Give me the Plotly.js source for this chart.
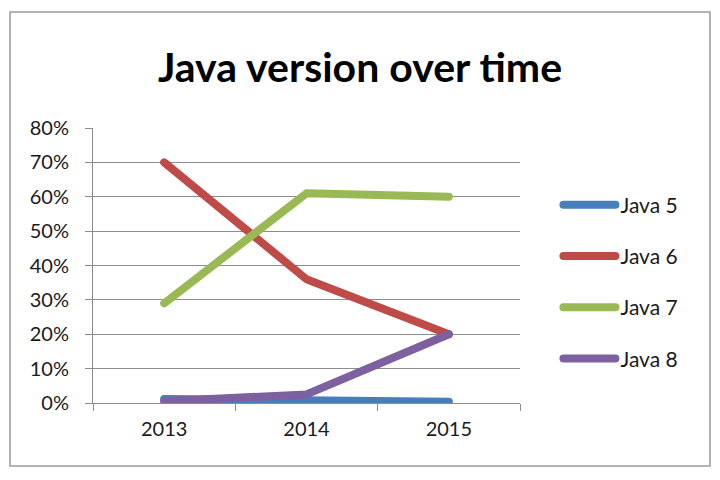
<!DOCTYPE html>
<html>
<head>
<meta charset="utf-8">
<script src="https://cdn.plot.ly/plotly-3.0.1.min.js"></script>
<style>
  html, body { margin: 0; padding: 0; background: #fff; }
  #chart { width: 720px; height: 480px; }
  .scatterlayer path.js-line, .legend path.js-line { stroke-linecap: round; stroke-linejoin: round; }
</style>
</head>
<body>
<div id="chart"></div>
<script>
const years = ['2013', '2014', '2015'];
const seriesNames = ['Java 5', 'Java 6', 'Java 7', 'Java 8'];
const java5 = [0.012, 0.008, 0.004];
const java6 = [0.70, 0.36, 0.20];
const java7 = [0.29, 0.61, 0.60];
const java8 = [0.005, 0.025, 0.20];
const yTickVals = [0, 0.1, 0.2, 0.3, 0.4, 0.5, 0.6, 0.7, 0.8];
const colors = ['#4A7EBB', '#BE4B48', '#98B954', '#7D60A0'];

const values = [java5, java6, java7, java8];
const traces = values.map((v, i) => ({
  x: years,
  y: v,
  name: seriesNames[i],
  legendgroup: 'g' + i,
  type: 'scatter',
  mode: 'lines',
  line: { color: colors[i], width: 8 },
  hoverinfo: 'skip'
}));

const fontFamily = 'Lato, "Open Sans", sans-serif';

const layout = {
  width: 720,
  height: 480,
  paper_bgcolor: '#ffffff',
  plot_bgcolor: '#ffffff',
  margin: { l: 93, r: 200, t: 128, b: 77 },
  showlegend: true,
  font: { family: fontFamily, color: '#1a1a1a', size: 20 },
  title: {
    text: '<b>Java version over time</b>',
    font: { family: fontFamily, size: 41, color: '#000' },
    x: 0.5, xref: 'container', xanchor: 'center',
    y: 0.86, yref: 'container', yanchor: 'middle'
  },
  xaxis: {
    type: 'category',
    range: [-0.5, 2.5],
    tickson: 'boundaries',
    ticks: 'outside',
    ticklen: 7,
    tickcolor: '#8c8c8c',
    showline: true,
    linecolor: '#8c8c8c',
    linewidth: 1,
    showgrid: false,
    zeroline: false,
    tickfont: { family: fontFamily, size: 20, color: '#1a1a1a' },
    ticklabelstandoff: 8,
    fixedrange: true
  },
  yaxis: {
    range: [0, 0.8],
    tickmode: 'array',
    tickvals: yTickVals,
    tickformat: '.0%',
    ticks: 'outside',
    ticklen: 7,
    tickcolor: '#8c8c8c',
    showline: true,
    linecolor: '#8c8c8c',
    linewidth: 1,
    showgrid: true,
    gridcolor: '#8c8c8c',
    gridwidth: 1,
    zeroline: false,
    tickfont: { family: fontFamily, size: 20, color: '#1a1a1a' },
    ticklabelstandoff: 12,
    fixedrange: true
  },
  legend: {
    x: 1.09, xanchor: 'left',
    y: 0.44, yanchor: 'middle',
    font: { family: fontFamily, size: 21, color: '#1a1a1a' },
    traceorder: 'grouped',
    tracegroupgap: 21,
    itemwidth: 52,
    bgcolor: 'rgba(0,0,0,0)'
  },
  shapes: [{
    type: 'rect', xref: 'paper', yref: 'paper',
    x0: (10 - 93) / 427, x1: (710 - 93) / 427,
    y0: (403 - 466) / 275, y1: (403 - 12) / 275,
    line: { color: '#9a9a9a', width: 1.5 },
    fillcolor: 'rgba(0,0,0,0)', layer: 'below'
  }]
};

Plotly.newPlot('chart', traces, layout, { displayModeBar: false, staticPlot: true });
</script>
</body>
</html>
